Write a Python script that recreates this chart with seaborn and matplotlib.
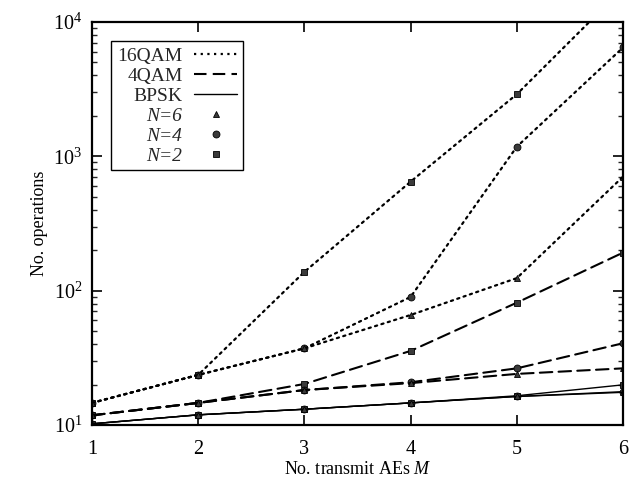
import numpy as np
import pandas as pd
import matplotlib
matplotlib.use("Agg")
import matplotlib.pyplot as plt
from matplotlib.lines import Line2D
from matplotlib.ticker import LogLocator, NullFormatter
import seaborn as sns

# Number of transmit antenna elements
M = [1, 2, 3, 4, 5, 6]

# Complexity (number of operations) per modulation and number of receive AEs N
qam16_n2 = [14.6, 23.6, 138, 648, 2900, 17800]
qam16_n4 = [14.6, 23.6, 37.2, 89.8, 1180, 6460]
qam16_n6 = [14.6, 23.6, 37.2, 65.9, 124, 706]

qam4_n2 = [11.8, 14.6, 20.2, 35.6, 81.4, 192]
qam4_n4 = [11.8, 14.6, 18.2, 20.8, 26.4, 40.6]
qam4_n6 = [11.8, 14.6, 18.2, 20.5, 24.0, 26.4]

bpsk_n2 = [10.2, 11.9, 13.1, 14.6, 16.5, 19.9]
bpsk_n4 = [10.2, 11.9, 13.1, 14.6, 16.3, 17.7]
bpsk_n6 = [10.2, 11.9, 13.1, 14.6, 16.3, 17.5]

modulations = ["16QAM", "4QAM", "BPSK"]
n_values = [6, 4, 2]

series = {
    ("16QAM", 2): qam16_n2, ("16QAM", 4): qam16_n4, ("16QAM", 6): qam16_n6,
    ("4QAM", 2): qam4_n2, ("4QAM", 4): qam4_n4, ("4QAM", 6): qam4_n6,
    ("BPSK", 2): bpsk_n2, ("BPSK", 4): bpsk_n4, ("BPSK", 6): bpsk_n6,
}

rows = []
for (mod, n), vals in series.items():
    for m, v in zip(M, vals):
        rows.append({"M": m, "ops": v, "mod": mod, "N": n})
df = pd.DataFrame(rows)

sns.set_theme(style="ticks")
plt.rcParams["font.family"] = ["Liberation Serif", "DejaVu Serif"]
plt.rcParams["mathtext.fontset"] = "custom"
plt.rcParams["mathtext.rm"] = "Liberation Serif"
plt.rcParams["mathtext.it"] = "Liberation Serif:italic"

line_styles = {
    "16QAM": dict(ls=(0, (1, 2)), lw=1.6),
    "4QAM": dict(ls=(0, (6, 3)), lw=1.5),
    "BPSK": dict(ls="-", lw=1.0),
}
markers = {6: ("^", 4.5), 4: ("o", 5), 2: ("s", 5)}
mcolor = "#3a3a3a"

fig = plt.figure(figsize=(6.3, 4.9), dpi=100)
ax = fig.add_axes([0.146, 0.1327, 0.843, 0.8224])

for mod in modulations:
    for n in [2, 4, 6]:
        sub = df[(df["mod"] == mod) & (df["N"] == n)]
        mk, ms = markers[n]
        sns.lineplot(data=sub, x="M", y="ops", ax=ax, color="black",
                     linestyle=line_styles[mod]["ls"], linewidth=line_styles[mod]["lw"],
                     marker=mk, markersize=ms, markerfacecolor=mcolor,
                     markeredgecolor="black", markeredgewidth=0.6,
                     dash_capstyle="round", legend=False, errorbar=None, sort=False)

ax.set_yscale("log")
ax.set_xlim(1, 6)
ax.set_ylim(10, 1e4)
ax.set_xticks(M)
ax.set_xticklabels([str(m) for m in M])
ax.yaxis.set_major_locator(LogLocator(base=10, numticks=10))
ax.yaxis.set_minor_locator(LogLocator(base=10, subs=np.arange(2, 10), numticks=20))
ax.yaxis.set_minor_formatter(NullFormatter())

ax.tick_params(axis="both", which="major", direction="in", length=7, width=1.2,
               labelsize=14.5, top=True, right=True, color="black", labelcolor="black")
ax.tick_params(axis="y", which="major", pad=7)
ax.tick_params(axis="x", which="major", pad=11)
ax.tick_params(axis="y", which="minor", direction="in", length=3.5, width=1.0,
               left=True, right=True)
ax.tick_params(axis="x", which="minor", bottom=False, top=False)

for sp in ax.spines.values():
    sp.set_linewidth(1.6)
    sp.set_color("black")

ax.set_xlabel("No. transmit AEs $M$", fontsize=13, color="black", labelpad=1.5)
ax.set_ylabel("No. operations", fontsize=13, color="black", labelpad=4)

handles = []
labels = []
for mod in modulations:
    st = line_styles[mod]
    handles.append(Line2D([], [], color="black", linestyle=st["ls"], linewidth=st["lw"]))
    labels.append(mod)
for n in n_values:
    mk, ms = markers[n]
    handles.append(Line2D([], [], color="black", linestyle="none", marker=mk,
                          markersize=ms, markerfacecolor=mcolor,
                          markeredgecolor="black", markeredgewidth=0.6))
    labels.append(f"N={n}")

leg = ax.legend(handles, labels, loc="upper left", markerfirst=False,
                fontsize=14, frameon=True, fancybox=False, edgecolor="black",
                framealpha=1, borderaxespad=1.0, handlelength=2.2,
                handletextpad=0.6, labelspacing=0.12, borderpad=0.3)
leg.get_frame().set_linewidth(1.0)
for t in leg.get_texts():
    if t.get_text().startswith("N="):
        t.set_fontstyle("italic")

fig.savefig("out.png", dpi=100)
